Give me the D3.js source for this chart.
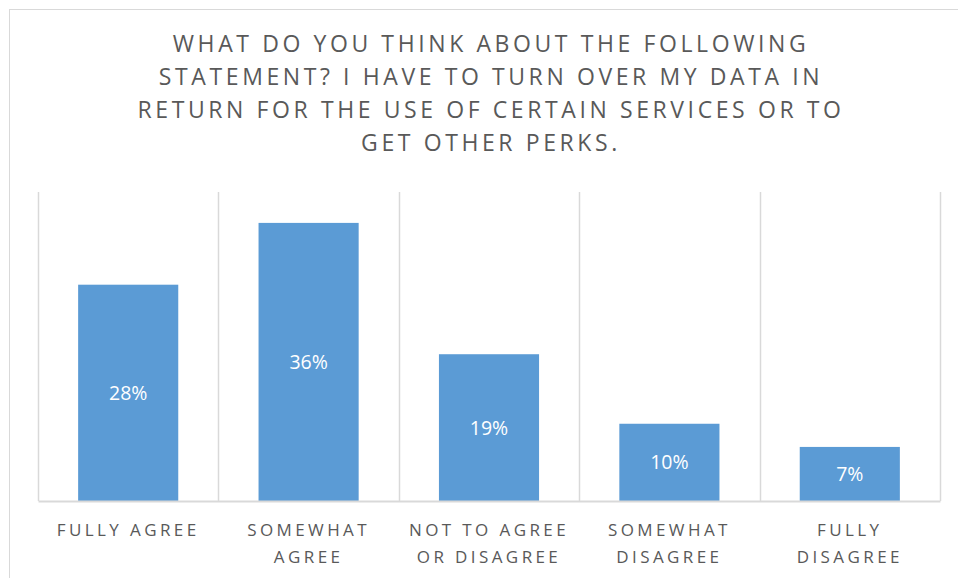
<!DOCTYPE html>
<html>
<head>
<meta charset="utf-8">
<script src="https://cdn.jsdelivr.net/npm/d3@7"></script>
<style>
  html, body { margin: 0; padding: 0; background: #fff; }
  svg { display: block; }
</style>
</head>
<body>
<svg id="chart" width="958" height="578"></svg>
<script>
// Survey answers and their shares
const categories = [
  ["FULLY AGREE"],
  ["SOMEWHAT", "AGREE"],
  ["NOT TO AGREE", "OR DISAGREE"],
  ["SOMEWHAT", "DISAGREE"],
  ["FULLY", "DISAGREE"]
];
const shares = [0.28, 0.36, 0.19, 0.10, 0.07];
const titleLines = [
  "WHAT DO YOU THINK ABOUT THE FOLLOWING",
  "STATEMENT? I HAVE TO TURN OVER MY DATA IN",
  "RETURN FOR THE USE OF CERTAIN SERVICES OR TO",
  "GET OTHER PERKS."
];

const svg = d3.select("#chart");
const W = 958, H = 578;
const margin = { top: 192, right: 18, bottom: 77, left: 38 };
const plotW = W - margin.left - margin.right;
const plotH = H - margin.top - margin.bottom;

const textColor = "#595959";
const gridColor = "#d9d9d9";
const barColor = "#5b9bd5";
const font = "'Open Sans', sans-serif";

// chart frame
svg.append("rect")
  .attr("x", 9.5).attr("y", 9.5)
  .attr("width", 980).attr("height", 600)
  .attr("fill", "#fff")
  .attr("stroke", gridColor).attr("stroke-width", 1);

// title
svg.append("text")
  .attr("x", margin.left + plotW / 2 + 2)
  .attr("y", 52)
  .attr("text-anchor", "middle")
  .attr("fill", textColor)
  .style("font-family", font)
  .style("font-weight", 400)
  .style("font-size", "23px")
  .style("letter-spacing", "3.6px")
  .selectAll("tspan")
  .data(titleLines)
  .join("tspan")
  .attr("x", margin.left + plotW / 2 + 2)
  .attr("dy", (d, i) => i === 0 ? 0 : 33)
  .text(d => d);

const g = svg.append("g").attr("transform", `translate(${margin.left},${margin.top})`);

const x = d3.scaleBand()
  .domain(d3.range(categories.length))
  .range([0, plotW])
  .paddingInner(0.445)
  .paddingOuter(0.2225);

const y = d3.scaleLinear().domain([0, 0.40]).range([plotH, 0]);

// category separators
const step = x.step();
const seps = d3.range(categories.length + 1).map(i => x(0) - x.paddingOuter() * step + i * step);
g.selectAll("line.sep")
  .data(seps)
  .join("line")
  .attr("class", "sep")
  .attr("x1", d => Math.round(d) + 0.5).attr("x2", d => Math.round(d) + 0.5)
  .attr("y1", 0).attr("y2", plotH)
  .attr("stroke", gridColor).attr("stroke-width", 1.5);

// bars
g.selectAll("rect.bar")
  .data(shares)
  .join("rect")
  .attr("class", "bar")
  .attr("x", (d, i) => x(i))
  .attr("width", x.bandwidth())
  .attr("y", d => y(d))
  .attr("height", d => plotH - y(d))
  .attr("fill", barColor);

// baseline axis
const axis = d3.axisBottom(d3.scalePoint().domain([]).range([0, plotW])).tickSize(0).tickFormat("");
const axisG = g.append("g").attr("transform", `translate(0,${plotH})`).call(axis);
axisG.select(".domain").attr("stroke", gridColor).attr("stroke-width", 2);

// value labels, centred in each bar
g.selectAll("text.val")
  .data(shares)
  .join("text")
  .attr("class", "val")
  .attr("x", (d, i) => x(i) + x.bandwidth() / 2)
  .attr("y", d => (y(d) + plotH) / 2)
  .attr("dy", "0.36em")
  .attr("text-anchor", "middle")
  .attr("fill", "#fff")
  .style("font-family", font)
  .style("font-weight", 400)
  .style("font-size", "19.5px")
  .text(d => d3.format(".0%")(d));

// category labels
const cat = g.selectAll("text.cat")
  .data(categories)
  .join("text")
  .attr("class", "cat")
  .attr("text-anchor", "middle")
  .attr("fill", textColor)
  .style("font-family", font)
  .style("font-weight", 400)
  .style("font-size", "17px")
  .style("letter-spacing", "3.4px")
  .attr("y", plotH + 35);
cat.selectAll("tspan")
  .data((d, i) => d.map(t => ({ t, i })))
  .join("tspan")
  .attr("x", d => x(d.i) + x.bandwidth() / 2)
  .attr("dy", (d, j) => j === 0 ? 0 : 27)
  .text(d => d.t);
</script>
</body>
</html>
